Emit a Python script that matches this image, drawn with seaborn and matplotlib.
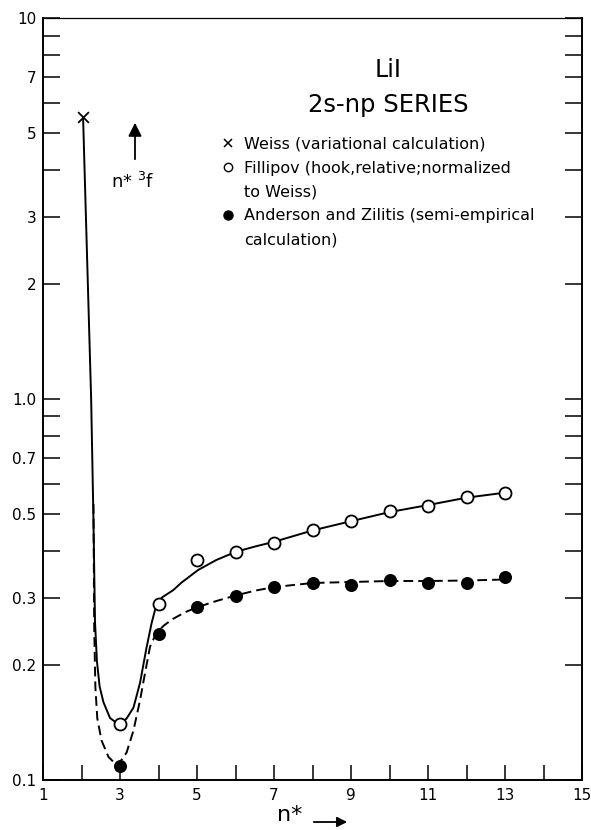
import numpy as np
import pandas as pd
import matplotlib
matplotlib.use("Agg")
import matplotlib.pyplot as plt
import seaborn as sns
from matplotlib.lines import Line2D
from matplotlib.ticker import FixedLocator, FixedFormatter, NullLocator

# measured points (n*, n*^3 f)
weiss_x = [2.04]
weiss_y = [5.5]

fillipov_x = [3, 4, 5, 6, 7, 8, 9, 10, 11, 12, 13]
fillipov_y = [0.140, 0.290, 0.377, 0.397, 0.420, 0.453, 0.478, 0.508, 0.523, 0.553, 0.568]

anderson_x = [3, 4, 5, 6, 7, 8, 9, 10, 11, 12, 13]
anderson_y = [0.109, 0.242, 0.284, 0.305, 0.321, 0.329, 0.325, 0.335, 0.329, 0.329, 0.342]

# hand-drawn curves
solid_x = [2.04, 2.25, 2.31, 2.35, 2.40, 2.47, 2.57, 2.74, 2.96, 3.17, 3.35, 3.52, 3.69,
           3.82, 3.95, 4.1, 4.38, 4.6, 5.03, 5.5, 6.0, 6.5, 7.0, 8.0, 9.0, 10.0, 11.0, 12.0, 13.0]
solid_y = [5.5, 1.0, 0.481, 0.260, 0.205, 0.176, 0.160, 0.1455, 0.140, 0.145, 0.155, 0.180,
           0.223, 0.258, 0.290, 0.302, 0.315, 0.330, 0.356, 0.378, 0.397, 0.410, 0.422, 0.452,
           0.478, 0.505, 0.527, 0.551, 0.568]

dashed_x = [2.31, 2.33, 2.36, 2.41, 2.52, 2.70, 2.93, 3.17, 3.35, 3.52, 3.65, 3.78, 3.95,
            4.15, 4.38, 4.7, 5.0, 5.5, 6.0, 6.5, 7.0, 8.0, 9.0, 10.0, 11.0, 12.0, 13.0]
dashed_y = [0.53, 0.25, 0.175, 0.145, 0.127, 0.115, 0.109, 0.118, 0.135, 0.162, 0.191, 0.224,
            0.244, 0.255, 0.265, 0.276, 0.284, 0.295, 0.305, 0.314, 0.321, 0.329, 0.331,
            0.333, 0.333, 0.334, 0.336]

y_ticks = [0.1, 0.2, 0.3, 0.4, 0.5, 0.6, 0.7, 0.8, 0.9, 1, 2, 3, 4, 5, 6, 7, 8, 9, 10]
y_labels = ["0.1", "0.2", "0.3", "", "0.5", "", "0.7", "", "", "1.0",
            "2", "3", "", "5", "", "7", "", "", "10"]
x_ticks = list(range(1, 16))
x_labels = [str(t) if t % 2 == 1 else "" for t in x_ticks]

legend_labels = ["Weiss (variational calculation)",
                 "Fillipov (hook,relative;normalized",
                 "to Weiss)",
                 "Anderson and Zilitis (semi-empirical",
                 "calculation)"]

sns.set_style("ticks")
plt.rcParams["font.family"] = ["DejaVu Sans"]
plt.rcParams["mathtext.default"] = "regular"
plt.rcParams["text.color"] = "black"
plt.rcParams["xtick.color"] = "black"
plt.rcParams["ytick.color"] = "black"
plt.rcParams["axes.edgecolor"] = "black"

fig = plt.figure(figsize=(5.91, 8.30), dpi=100)
ax = fig.add_axes([0.0728, 0.0602, 0.912, 0.918])

solid = pd.DataFrame({"x": solid_x, "y": solid_y})
dashed = pd.DataFrame({"x": dashed_x, "y": dashed_y})
sns.lineplot(data=solid, x="x", y="y", sort=False, estimator=None, color="black",
             linewidth=1.4, ax=ax)
sns.lineplot(data=dashed, x="x", y="y", sort=False, estimator=None, color="black",
             linewidth=1.4, linestyle=(0, (5, 2.6)), ax=ax)

sns.scatterplot(x=weiss_x, y=weiss_y, marker="x", s=60, color="black", linewidth=1.3,
                ax=ax, zorder=5)
sns.scatterplot(x=fillipov_x, y=fillipov_y, marker="o", s=75, facecolor="white",
                edgecolor="black", linewidth=1.3, ax=ax, zorder=5)
sns.scatterplot(x=anderson_x, y=anderson_y, marker="o", s=70, color="black",
                edgecolor="black", linewidth=1.0, ax=ax, zorder=5)

ax.set_yscale("log")
ax.set_xlim(1, 15)
ax.set_ylim(0.1, 10)
ax.yaxis.set_major_locator(FixedLocator(y_ticks))
ax.yaxis.set_major_formatter(FixedFormatter(y_labels))
ax.yaxis.set_minor_locator(NullLocator())
ax.xaxis.set_major_locator(FixedLocator(x_ticks))
ax.xaxis.set_major_formatter(FixedFormatter(x_labels))
ax.tick_params(axis="y", which="major", direction="in", length=12, width=1.1,
               right=True, labelsize=11, pad=5)
ax.tick_params(axis="x", which="major", direction="in", length=11, width=1.1,
               top=False, labelsize=11, pad=6)
ax.set_xlabel("")
ax.set_ylabel("")
for side in ["left", "bottom", "right"]:
    ax.spines[side].set_linewidth(1.4)
ax.spines["top"].set_linewidth(0.9)

# legend-like key
handles = [Line2D([], [], marker="x", ls="none", color="black", ms=6, mew=1.1),
           Line2D([], [], marker="o", ls="none", mfc="white", mec="black", ms=6, mew=1.0),
           Line2D([], [], ls="none"),
           Line2D([], [], marker="o", ls="none", color="black", ms=6.5),
           Line2D([], [], ls="none")]
ax.legend(handles, legend_labels, loc="upper left", frameon=False, fontsize=11.5,
          labelcolor="black",
          bbox_to_anchor=(212 / 591, 1 - 129 / 830), bbox_transform=fig.transFigure,
          borderpad=0, handlelength=1.0, handletextpad=0.5, labelspacing=0.55)

fig.text(388 / 591, 1 - 70 / 830, "LiI", ha="center", va="center", fontsize=17)
fig.text(388 / 591, 1 - 105 / 830, "2s-np SERIES", ha="center", va="center", fontsize=17.5)

# y-quantity arrow
ax.annotate("", xy=(135 / 591, 1 - 120 / 830), xytext=(135 / 591, 1 - 162 / 830),
            xycoords="figure fraction", textcoords="figure fraction",
            arrowprops=dict(arrowstyle="-|>", lw=1.3, color="black", mutation_scale=20))
fig.text(133 / 591, 1 - 182 / 830, "n* $^{3}$f", ha="center", va="center", fontsize=13)

# x-quantity arrow
fig.text(290 / 591, 1 - 815 / 830, "n*", ha="center", va="center", fontsize=16)
ax.annotate("", xy=(350 / 591, 1 - 822 / 830), xytext=(311 / 591, 1 - 822 / 830),
            xycoords="figure fraction", textcoords="figure fraction",
            arrowprops=dict(arrowstyle="-|>", lw=1.3, color="black", mutation_scale=15))

fig.savefig("out.png", dpi=100, facecolor="white")
plt.close(fig)
